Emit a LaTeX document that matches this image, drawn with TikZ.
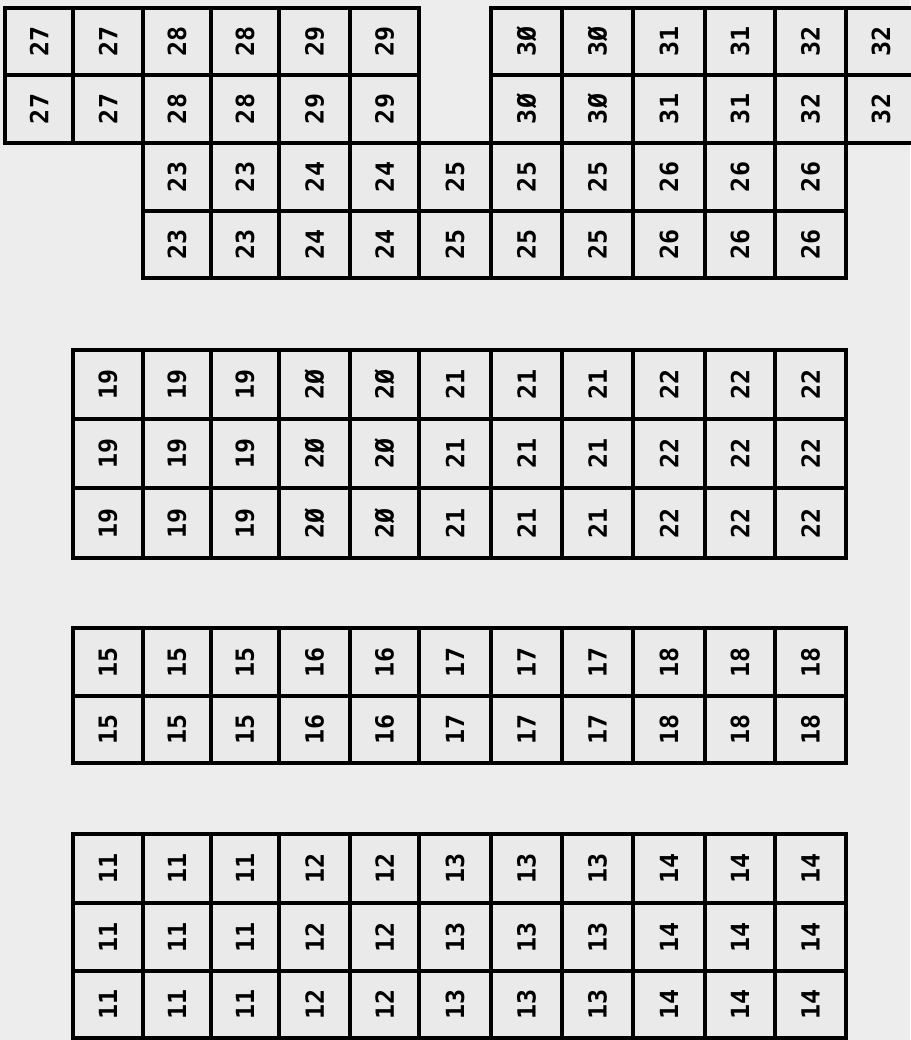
\documentclass[tikz,border=0pt]{standalone}
\usepackage{fontspec}
\setmonofont{DejaVu Sans Mono}
\usepackage{xcolor}
\usepackage{tikz}

\definecolor{paper}{HTML}{EDEDED}
\definecolor{cellgray}{HTML}{EAEAEA}

% left edges of the grid columns
\def\colx{{5,73,143,211,279,350,419,491,562,633,705,775,846,916}}

% one row of cells: name, top, bottom, list of column/label
\newcommand{\cellrow}[4]{%
  \foreach \c/\t in {#4} {
    \pgfmathsetmacro{\xl}{\colx[\c]}
    \pgfmathsetmacro{\xr}{\colx[\c+1]}
    \node[cell, minimum width={#3-#2}, minimum height={\xr-\xl}] (#1-\c) at ({(\xl+\xr)/2},{(#2+#3)/2}) {\t};
  }%
}

\begin{document}
\begin{tikzpicture}[x=1pt, y=-1pt,
  cell/.style={draw, line width=3.6pt, fill=cellgray, inner sep=0pt, rotate=90,
    font=\ttfamily\bfseries\fontsize{25}{25}\selectfont}]
\fill[paper] (0,0) rectangle (910,1040);
\useasboundingbox (0,0) rectangle (910,1040);
% cabinets 27 to 32
\cellrow{ra}{8}{75}{0/27,1/27,2/28,3/28,4/29,5/29,7/3Ø,8/3Ø,9/31,10/31,11/32,12/32}
\cellrow{rb}{75}{143}{0/27,1/27,2/28,3/28,4/29,5/29,7/3Ø,8/3Ø,9/31,10/31,11/32,12/32}
% cabinets 23 to 26
\cellrow{rc}{143}{211}{2/23,3/23,4/24,5/24,6/25,7/25,8/25,9/26,10/26,11/26}
\cellrow{rd}{211}{278}{2/23,3/23,4/24,5/24,6/25,7/25,8/25,9/26,10/26,11/26}
% cabinets 19 to 22
\cellrow{re}{350}{419}{1/19,2/19,3/19,4/2Ø,5/2Ø,6/21,7/21,8/21,9/22,10/22,11/22}
\cellrow{rf}{419}{488}{1/19,2/19,3/19,4/2Ø,5/2Ø,6/21,7/21,8/21,9/22,10/22,11/22}
\cellrow{rg}{488}{558}{1/19,2/19,3/19,4/2Ø,5/2Ø,6/21,7/21,8/21,9/22,10/22,11/22}
% cabinets 15 to 18
\cellrow{rh}{628}{696}{1/15,2/15,3/15,4/16,5/16,6/17,7/17,8/17,9/18,10/18,11/18}
\cellrow{ri}{696}{763}{1/15,2/15,3/15,4/16,5/16,6/17,7/17,8/17,9/18,10/18,11/18}
% cabinets 11 to 14
\cellrow{rj}{834}{903}{1/11,2/11,3/11,4/12,5/12,6/13,7/13,8/13,9/14,10/14,11/14}
\cellrow{rk}{903}{971}{1/11,2/11,3/11,4/12,5/12,6/13,7/13,8/13,9/14,10/14,11/14}
\cellrow{rl}{971}{1038}{1/11,2/11,3/11,4/12,5/12,6/13,7/13,8/13,9/14,10/14,11/14}
\end{tikzpicture}
\end{document}
